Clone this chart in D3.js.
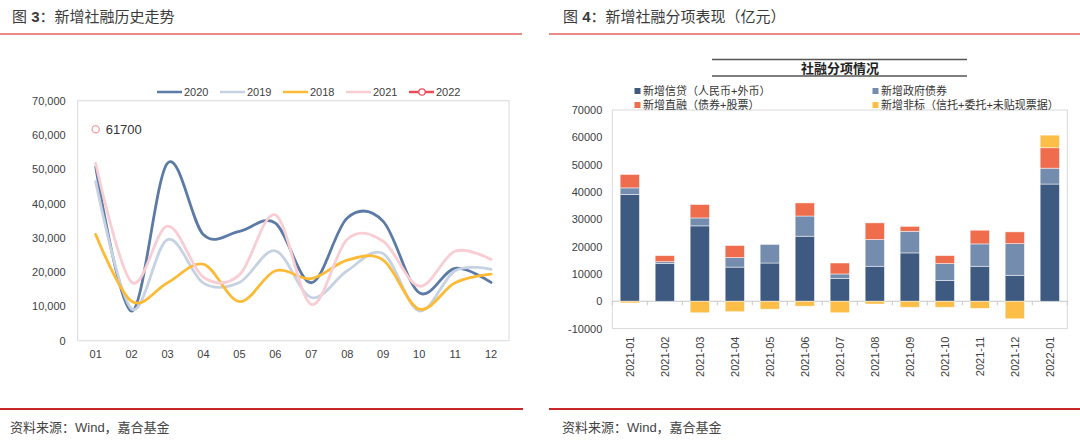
<!DOCTYPE html>
<html><head><meta charset="utf-8">
<script src="https://cdn.jsdelivr.net/npm/d3@7"></script>
<style>
body{margin:0;background:#fff;}
svg{display:block;}
text{font-family:"Liberation Sans","Noto Sans CJK SC",sans-serif;}
</style>
</head><body>
<svg id="c" width="1080" height="440"></svg>
<script>
// ---------- Left chart data ----------
const months = ["01","02","03","04","05","06","07","08","09","10","11","12"];
const s2020 = [50700, 8600, 51800, 30900, 31900, 34300, 16900, 35800, 34800, 14000, 21100, 17000];
const s2019 = [46400, 9300, 29500, 16800, 17000, 26200, 12600, 20400, 25400, 8700, 20400, 20800];
const s2018 = [31000, 11500, 16900, 22300, 11400, 20400, 18100, 23500, 23500, 9200, 16900, 19400];
const s2021 = [51700, 17100, 33400, 18500, 19200, 36700, 10600, 29600, 29000, 15900, 26100, 23700];
const s2022 = [61700];
const seriesNames = ["2020","2019","2018","2021","2022"];
const yTicksLeft = [0,10000,20000,30000,40000,50000,60000,70000];

// ---------- Right chart data ----------
const cats = ["2021-01","2021-02","2021-03","2021-04","2021-05","2021-06","2021-07","2021-08","2021-09","2021-10","2021-11","2021-12","2022-01"];
const loans  = [39100, 13800, 27600, 12500, 14000, 23800, 8300, 12800, 17700, 7600, 12800, 9500, 42900];
const gov    = [2400, 700, 2900, 3500, 6800, 7400, 1700, 9800, 7900, 6200, 8200, 11600, 5800];
const direct = [4900, 2200, 4900, 4400, 0, 4800, 4000, 6100, 1800, 2900, 5000, 4300, 7500];
const nonstd = [-600, 0, -4200, -3800, -2900, -1800, -4200, -1000, -2200, -2200, -2600, -6400, 4600];
const stackNames = ["新增信贷（人民币+外币）","新增政府债券","新增直融（债券+股票）","新增非标（信托+委托+未贴现票据）"];
const yTicksRight = [-10000,0,10000,20000,30000,40000,50000,60000,70000];

const svg = d3.select("#c");
const txt = "#404040";

// ---------- Headers / footers ----------
function header(x, num, rest){
  const t = svg.append("text").attr("x", x).attr("y", 16).attr("dominant-baseline","central")
    .attr("font-size", 15).attr("fill", "#3a3a3a");
  t.append("tspan").text("图 ");
  t.append("tspan").attr("font-weight","bold").attr("font-family","Liberation Sans").text(num);
  t.append("tspan").text("：" + rest);
}
header(12, "3", "新增社融历史走势");
header(563, "4", "新增社融分项表现（亿元）");
svg.append("line").attr("x1",0).attr("x2",522).attr("y1",34).attr("y2",34).attr("stroke","#E56060").attr("stroke-width",1.5);
svg.append("line").attr("x1",549).attr("x2",1080).attr("y1",34).attr("y2",34).attr("stroke","#E56060").attr("stroke-width",1.5);
svg.append("line").attr("x1",0).attr("x2",523).attr("y1",409).attr("y2",409).attr("stroke","#C9282B").attr("stroke-width",2);
svg.append("line").attr("x1",549).attr("x2",1080).attr("y1",409).attr("y2",409).attr("stroke","#C9282B").attr("stroke-width",2);
svg.append("text").attr("x",10).attr("y",427).attr("dominant-baseline","central").attr("font-size",13).attr("fill","#444").text("资料来源：Wind，嘉合基金");
svg.append("text").attr("x",562).attr("y",427).attr("dominant-baseline","central").attr("font-size",13).attr("fill","#444").text("资料来源：Wind，嘉合基金");

// ---------- Left chart ----------
const L = {left:77.7, right:509, top:100.7, bottom:340.7};
const xL = d3.scaleBand().domain(months).range([L.left, L.right]);
const xc = m => xL(m) + xL.bandwidth()/2;
const yL = d3.scaleLinear().domain([0,70000]).range([L.bottom, L.top]);

svg.append("rect").attr("x",L.left).attr("y",L.top).attr("width",L.right-L.left).attr("height",L.bottom-L.top)
  .attr("fill","none").attr("stroke","#DADADA").attr("stroke-width",1);

const gyL = svg.append("g").attr("transform",`translate(${L.left},0)`)
  .call(d3.axisLeft(yL).tickValues(yTicksLeft).tickSize(0).tickPadding(12).tickFormat(d3.format(",")));
gyL.select(".domain").remove();
gyL.selectAll("text").attr("font-size",11).attr("fill",txt).attr("font-family","Liberation Sans");

const gxL = svg.append("g").attr("transform",`translate(0,${L.bottom})`)
  .call(d3.axisBottom(xL).tickSize(0).tickPadding(10));
gxL.select(".domain").remove();
gxL.selectAll("text").attr("font-size",11).attr("fill",txt).attr("font-family","Liberation Sans");

const lineColors = {"2020":"#5B7AA5","2019":"#C6D2E2","2018":"#FDBA35","2021":"#F8CDD3","2022":"#EC4B5A"};
const lineGen = d3.line().x((d,i)=>xc(months[i])).y(d=>yL(d)).curve(d3.curveCardinal.tension(0));
[["2020",s2020],["2019",s2019],["2018",s2018],["2021",s2021]].forEach(([k,arr])=>{
  svg.append("path").datum(arr).attr("d",lineGen).attr("fill","none")
    .attr("stroke",lineColors[k]).attr("stroke-width",2.8).attr("stroke-linecap","round");
});
// 2022 point
s2022.forEach((v,i)=>{
  svg.append("circle").attr("cx",xc(months[i])).attr("cy",yL(v)).attr("r",3.6)
    .attr("fill","#fff").attr("stroke","#F2A3AC").attr("stroke-width",1.3);
  svg.append("text").attr("x",xc(months[i])+10).attr("y",yL(v)).attr("dominant-baseline","central")
    .attr("font-size",13).attr("fill","#333").text(v);
});

// Left legend
seriesNames.forEach((k,i)=>{
  const x0 = 157 + i*63, y0 = 92;
  svg.append("line").attr("x1",x0).attr("x2",x0+25).attr("y1",y0).attr("y2",y0)
    .attr("stroke",lineColors[k]).attr("stroke-width",2.5);
  if(k==="2022"){
    svg.append("circle").attr("cx",x0+13).attr("cy",y0).attr("r",3.2).attr("fill","#fff")
      .attr("stroke",lineColors[k]).attr("stroke-width",1.2);
  }
  svg.append("text").attr("x",x0+27).attr("y",y0).attr("dominant-baseline","central")
    .attr("font-size",11).attr("fill",txt).text(k);
});

// ---------- Right chart ----------
const R = {left:612.3, right:1067.3, top:110, bottom:328.6};
const xR = d3.scaleBand().domain(cats).range([R.left, R.right]).paddingInner(0.45).paddingOuter(0.225);
const yR = d3.scaleLinear().domain([-10000,70000]).range([R.bottom, R.top]);

svg.append("rect").attr("x",R.left).attr("y",R.top).attr("width",R.right-R.left).attr("height",R.bottom-R.top)
  .attr("fill","none").attr("stroke","#DADADA").attr("stroke-width",1);

const gyR = svg.append("g").attr("transform",`translate(${R.left},0)`)
  .call(d3.axisLeft(yR).tickValues(yTicksRight).tickSize(0).tickPadding(10).tickFormat(d=>String(d)));
gyR.select(".domain").remove();
gyR.selectAll("text").attr("font-size",11).attr("fill",txt).attr("font-family","Liberation Sans");

// zero line & ticks
svg.append("line").attr("x1",R.left).attr("x2",R.right).attr("y1",yR(0)).attr("y2",yR(0))
  .attr("stroke","#C8C8C8").attr("stroke-width",1);
const step = xR.step();
d3.range(cats.length+1).forEach(i=>{
  const x = R.left + i*step;
  svg.append("line").attr("x1",x).attr("x2",x).attr("y1",yR(0)).attr("y2",yR(0)+4)
    .attr("stroke","#C8C8C8").attr("stroke-width",1);
});

const rows = cats.map((c,i)=>({cat:c, loans:loans[i], gov:gov[i], direct:direct[i], nonstd:nonstd[i]}));
const keys = ["loans","gov","direct","nonstd"];
const barColors = {loans:"#3E5A80", gov:"#748CAE", direct:"#EF6C4D", nonstd:"#FDBE47"};
const stacked = d3.stack().keys(keys).offset(d3.stackOffsetDiverging)(rows);
stacked.forEach(layer=>{
  svg.append("g").selectAll("rect").data(layer).join("rect")
    .attr("x",d=>xR(d.data.cat)).attr("width",xR.bandwidth())
    .attr("y",d=>yR(Math.max(d[0],d[1]))).attr("height",d=>Math.abs(yR(d[0])-yR(d[1])))
    .attr("fill",barColors[layer.key]).attr("stroke","#ffffff").attr("stroke-opacity",0.6).attr("stroke-width",0.8);
});

// x labels rotated
const gxR = svg.append("g").attr("transform",`translate(0,${R.bottom})`)
  .call(d3.axisBottom(xR).tickSize(0));
gxR.select(".domain").remove();
gxR.selectAll("text").attr("font-size",11).attr("fill",txt).attr("font-family","Liberation Sans")
  .attr("transform","rotate(-90)").attr("text-anchor","end").attr("x",-8).attr("y",0).attr("dy","0.35em");

// Title box
svg.append("line").attr("x1",712).attr("x2",967).attr("y1",59.5).attr("y2",59.5).attr("stroke","#555").attr("stroke-width",1.3);
svg.append("line").attr("x1",712).attr("x2",967).attr("y1",76).attr("y2",76).attr("stroke","#555").attr("stroke-width",1.3);
svg.append("text").attr("x",840).attr("y",68).attr("text-anchor","middle").attr("dominant-baseline","central")
  .attr("font-size",13).attr("font-weight","bold").attr("fill","#222").text("社融分项情况");

// Right legend
const legPos = [[637,91],[875,91],[637,105],[875,105]];
keys.forEach((k,i)=>{
  const [x,y] = legPos[i];
  svg.append("rect").attr("x",x-2.5).attr("y",y-3).attr("width",6).attr("height",6).attr("fill",barColors[k]);
  svg.append("text").attr("x",x+6).attr("y",y).attr("dominant-baseline","central")
    .attr("font-size",11).attr("fill","#333").text(stackNames[i]);
});
</script>
</body></html>
